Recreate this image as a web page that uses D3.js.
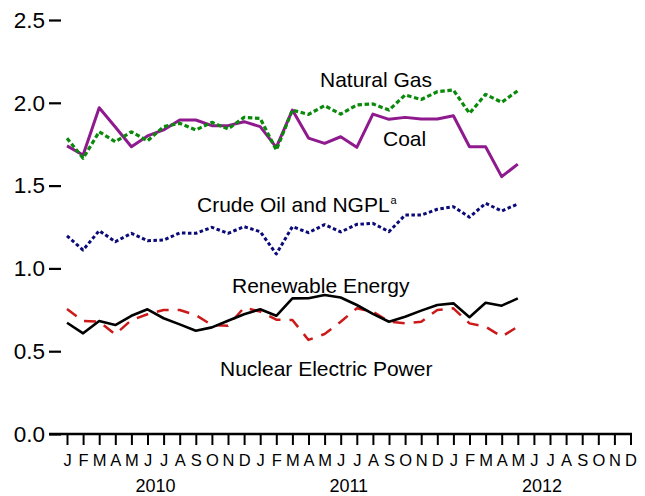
<!DOCTYPE html>
<html>
<head>
<meta charset="utf-8">
<script src="https://cdn.jsdelivr.net/npm/d3@7"></script>
<style>
  html, body { margin: 0; padding: 0; background: #fff; }
  svg text { font-family: "Liberation Sans", Arial, sans-serif; fill: #000; }
</style>
</head>
<body>
<svg id="chart" width="645" height="496"></svg>
<script>
// ---- data ----
const monthLetters = ["J","F","M","A","M","J","J","A","S","O","N","D"];
const years = ["2010", "2011", "2012"];
const yTicks = [0, 0.5, 1.0, 1.5, 2.0, 2.5];

const coal = [1.74,1.685,1.97,1.854,1.735,1.80,1.836,1.896,1.896,1.862,1.862,1.886,1.856,1.731,1.956,1.787,1.755,1.795,1.731,1.932,1.900,1.912,1.902,1.902,1.922,1.735,1.735,1.554,1.630];
const naturalGas = [1.786,1.665,1.825,1.765,1.825,1.77,1.856,1.876,1.836,1.882,1.842,1.912,1.906,1.715,1.956,1.930,1.983,1.932,1.987,1.993,1.956,2.047,2.02,2.067,2.077,1.936,2.051,2.003,2.073];
const crudeOil = [1.196,1.111,1.228,1.161,1.212,1.167,1.171,1.214,1.212,1.248,1.212,1.252,1.222,1.087,1.252,1.216,1.264,1.22,1.266,1.272,1.222,1.322,1.322,1.357,1.373,1.309,1.393,1.347,1.389];
const renewable = [0.672,0.608,0.682,0.658,0.714,0.753,0.699,0.662,0.624,0.644,0.684,0.723,0.753,0.714,0.819,0.82,0.839,0.824,0.779,0.725,0.678,0.708,0.745,0.779,0.789,0.705,0.793,0.775,0.819];
const nuclear = [0.755,0.682,0.678,0.602,0.688,0.723,0.749,0.749,0.718,0.658,0.654,0.763,0.739,0.69,0.688,0.568,0.604,0.678,0.759,0.739,0.678,0.668,0.678,0.749,0.759,0.668,0.648,0.588,0.648];

// ---- build ----
const monthKeys = [];
years.forEach(y => monthLetters.forEach((m, i) => monthKeys.push(y + "-" + i)));

const svg = d3.select("#chart");
const x = d3.scalePoint().domain(monthKeys).range([67, 630.5]);
const y = d3.scaleLinear().domain([0, 2.5]).range([434, 20]);

// y axis (tick marks right of labels, no domain line)
const yAxis = svg.append("g").attr("transform", "translate(61,0)")
  .call(d3.axisLeft(y).tickValues(yTicks).tickFormat(d3.format(".1f")).tickSize(12).tickPadding(4));
yAxis.select(".domain").remove();
yAxis.selectAll(".tick line").attr("stroke", "#000").attr("stroke-width", 2.2);
yAxis.selectAll(".tick text").style("font-size", "22.5px").attr("fill", "#000");

// x axis
svg.append("line").attr("x1", 49).attr("x2", 632).attr("y1", y(0)).attr("y2", y(0))
  .attr("stroke", "#000").attr("stroke-width", 2.5);
const xAxis = svg.append("g").attr("transform", `translate(0,${y(0)})`)
  .call(d3.axisBottom(x).tickFormat(k => monthLetters[+k.split("-")[1]]).tickSize(11).tickPadding(9));
xAxis.select(".domain").remove();
xAxis.selectAll(".tick line").attr("stroke", "#000").attr("stroke-width", 2);
xAxis.selectAll(".tick text").style("font-size", "16.5px").attr("fill", "#000");

svg.selectAll(".yearLabel").data(years).enter().append("text")
  .attr("class", "yearLabel")
  .attr("x", yr => (x(yr + "-0") + x(yr + "-11")) / 2)
  .attr("y", 492)
  .attr("text-anchor", "middle")
  .style("font-size", "18px")
  .text(yr => yr);

// series
const series = [
  { name: "nuclear", values: nuclear, color: "#cc1a1a", width: 2.5, dash: "12,9" },
  { name: "renewable", values: renewable, color: "#000000", width: 2.6, dash: null },
  { name: "crude", values: crudeOil, color: "#0a0a78", width: 3, dash: "3.5,2.5" },
  { name: "coal", values: coal, color: "#8e1a8e", width: 3, dash: null },
  { name: "gas", values: naturalGas, color: "#0a8a0a", width: 3.2, dash: "4.5,2.6" }
];

const line = d3.line().x((d, i) => x(monthKeys[i])).y(d => y(d));

svg.selectAll(".series").data(series).enter().append("path")
  .attr("class", "series")
  .attr("fill", "none")
  .attr("stroke", s => s.color)
  .attr("stroke-width", s => s.width)
  .attr("stroke-dasharray", s => s.dash)
  .attr("stroke-linejoin", "round")
  .attr("d", s => line(s.values));

// labels
const labels = [
  { text: "Natural Gas", x: 320, y: 87 },
  { text: "Coal", x: 383, y: 146 },
  { text: "Renewable Energy", x: 232, y: 293 },
  { text: "Nuclear Electric Power", x: 220, y: 376 }
];
svg.selectAll(".lbl").data(labels).enter().append("text")
  .attr("class", "lbl")
  .attr("x", d => d.x).attr("y", d => d.y)
  .style("font-size", "21px")
  .text(d => d.text);

const crudeLbl = svg.append("text").attr("x", 197).attr("y", 212).style("font-size", "21px");
crudeLbl.append("tspan").text("Crude Oil and NGPL");
crudeLbl.append("tspan").attr("dx", 1).attr("dy", -8).style("font-size", "11px").text("a");
</script>
</body>
</html>
